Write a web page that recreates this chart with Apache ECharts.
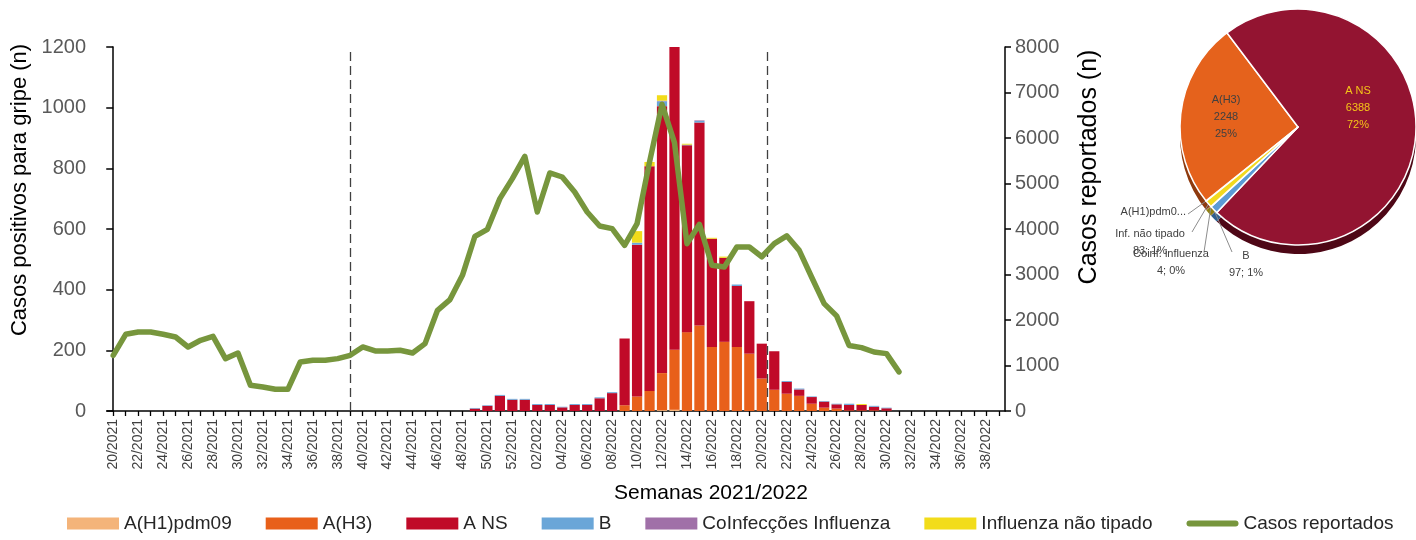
<!DOCTYPE html>
<html>
<head>
<meta charset="utf-8">
<script src="https://cdn.jsdelivr.net/npm/echarts/dist/echarts.min.js"></script>
<style>
html,body{margin:0;padding:0;background:#fff;}
#chart{width:1416px;height:540px;}
</style>
</head>
<body>
<div id="chart"></div>
<script>
// ---------- DATA ----------
const weeks = [
 '20/2021','21/2021','22/2021','23/2021','24/2021','25/2021','26/2021','27/2021','28/2021','29/2021',
 '30/2021','31/2021','32/2021','33/2021','34/2021','35/2021','36/2021','37/2021','38/2021','39/2021',
 '40/2021','41/2021','42/2021','43/2021','44/2021','45/2021','46/2021','47/2021','48/2021','49/2021',
 '50/2021','51/2021','52/2021','01/2022','02/2022','03/2022','04/2022','05/2022','06/2022','07/2022',
 '08/2022','09/2022','10/2022','11/2022','12/2022','13/2022','14/2022','15/2022','16/2022','17/2022',
 '18/2022','19/2022','20/2022','21/2022','22/2022','23/2022','24/2022','25/2022','26/2022','27/2022',
 '28/2022','29/2022','30/2022','31/2022','32/2022','33/2022','34/2022','35/2022','36/2022','37/2022',
 '38/2022','39/2022'
];
const seriesNames = ['A(H1)pdm09','A(H3)','A NS','B','CoInfecções Influenza','Influenza não tipado','Casos reportados'];

const z29 = new Array(29).fill(0);   // weeks 20/2021 .. 48/2021 : no positives
const tail9 = new Array(9).fill(0);  // weeks 31/2022 .. 39/2022
// weeks 49/2021 .. 30/2022
const h1pdm09 = z29.concat([0,0,0,0,0,0,0,0,0,0,0,0,0,0,0,3,4,0,0,0,0,0,0,0,0,0,0,0,0,0,0,0,0,0], tail9);
const h3      = z29.concat([0,0,0,0,0,0,0,0,0,0,0,0,19,48,66,122,198,260,282,211,228,211,189,107,70,57,50,24,11,8,2,2,2,1], tail9);
const ans     = z29.concat([8,17,50,37,37,20,20,12,20,20,42,59,220,500,741,880,998,616,669,357,277,201,173,115,127,39,21,22,20,14,18,18,12,8], tail9);
const bType   = z29.concat([2,2,3,3,3,3,3,2,3,3,3,3,0,7,0,16,0,2,5,0,0,5,0,0,0,3,3,2,2,2,4,0,3,2], tail9);
const coinf   = z29.concat([0,0,0,0,0,0,0,0,0,0,0,0,0,0,0,2,0,0,2,0,0,0,0,0,0,0,0,0,0,0,0,0,0,0], tail9);
const naoTip  = z29.concat([0,0,0,0,0,0,0,0,0,0,0,0,0,38,14,18,0,3,0,3,4,0,0,0,0,0,0,0,0,0,0,3,0,0], tail9);
const casosReportados = [
 1224,1686,1736,1736,1686,1626,1407,1554,1642,1151,
 1275,565,528,477,477,1077,1114,1114,1151,1224,
 1407,1319,1319,1334,1275,1480,2213,2448,2982,3840,
 3993,4668,5107,5598,4374,5231,5143,4813,4374,4066,
 4009,3642,4118,5473,6741,5900,3678,4103,3202,3165,
 3604,3604,3390,3678,3850,3530,2940,2360,2090,1440,
 1393,1297,1261,860,null,null,null,null,null,null,
 null,null
];
const dividerWeeks = [19, 52.43]; // category positions of the dashed season dividers

const pieNames = ['A(H1)pdm09','A(H3)','A NS','B','Coinf. influenza','Inf. não tipado'];
const pieValues = [7, 2248, 6388, 97, 4, 83];

// ---------- STYLE ----------
const colors = ['#F4B47A','#E8601A','#C00A28','#6AA6D8','#A070A8','#F2DC1A','#77963D'];
const pieColors = ['#F4B183','#E5621C','#931431','#5B9BD5','#8064A2','#F2D91F'];
const pieDepth  = ['#9a6a40','#8E3A0E','#4E0716','#2f5f8f','#4a3a60','#8f7f10'];
const font = 'Liberation Sans, Arial, sans-serif';

const chart = echarts.init(document.getElementById('chart'), null, {renderer:'canvas'});

const barSeries = [h1pdm09,h3,ans,bType,coinf,naoTip].map((d,i)=>({
  name: seriesNames[i], type:'bar', stack:'pos', data:d,
  barCategoryGap:'18%', itemStyle:{color:colors[i]}, xAxisIndex:0, yAxisIndex:0
}));

const labelPos = {
  0:{x:1186,y:212,align:'right', line:[1188,214]},
  1:{x:1226,y:117,align:'center'},
  2:{x:1358,y:108,align:'center'},
  3:{x:1246,y:264,align:'center', line:[1232,252]},
  4:{x:1171,y:262,align:'center', line:[1204,252]},
  5:{x:1150,y:242,align:'center', line:[1192,232]}
};

function pieLabel(p){
  const pct = Math.round(p.percent);
  if (p.dataIndex===0) return 'A(H1)pdm0...';
  if (p.dataIndex===1 || p.dataIndex===2) return p.name+'\n'+p.value+'\n'+pct+'%';
  return p.name+'\n'+p.value+'; '+pct+'%';
}
const plain = v => String(v);

const option = {
  animation:false,
  color: colors,
  textStyle:{fontFamily:font},
  grid:{left:107, right:411, top:47, bottom:129, containLabel:false, outerBoundsMode:'none'},
  legend:{
    bottom:2, left:62, itemWidth:52, itemHeight:12, itemGap:34,
    textStyle:{fontSize:19, color:'#262626', fontFamily:font},
    data: seriesNames.map((n,i)=> i===6
      ? {name:n, icon:'path://M3,0 H49 A3,3 0 0 1 49,6 H3 A3,3 0 0 1 3,0 Z'}
      : {name:n, icon:'rect'})
  },
  xAxis:[{
    type:'category', data:weeks, boundaryGap:true,
    axisLine:{lineStyle:{color:'#000', width:1.5}},
    axisTick:{show:true, alignWithLabel:true, interval:0, length:5, lineStyle:{color:'#000', width:1.3}},
    axisLabel:{rotate:90, interval:1, fontSize:14, color:'#404040', fontFamily:font, margin:8},
    name:'Semanas 2021/2022', nameLocation:'middle', nameGap:72,
    nameTextStyle:{fontSize:21, color:'#000', fontFamily:font, padding:[0,0,0,310]}
  },{
    type:'value', min:-0.5, max:71.5, show:false
  }],
  yAxis:[{
    type:'value', min:0, max:1200, interval:200, position:'left',
    axisLine:{show:true, lineStyle:{color:'#000', width:1.5}},
    axisTick:{show:true, length:7, lineStyle:{color:'#000', width:1.5}},
    splitLine:{show:false},
    axisLabel:{fontSize:20, color:'#595959', margin:21, fontFamily:font, formatter:plain},
    name:'Casos positivos para gripe (n)', nameLocation:'middle', nameGap:65, nameRotate:90,
    nameTextStyle:{fontSize:22, color:'#000', fontFamily:font, padding:[0,0,0,78]}
  },{
    type:'value', min:0, max:8000, interval:1000, position:'right',
    axisLine:{show:true, lineStyle:{color:'#000', width:1.5}},
    axisTick:{show:true, length:6, lineStyle:{color:'#000', width:1.5}},
    splitLine:{show:false},
    axisLabel:{fontSize:20, color:'#595959', margin:10, fontFamily:font, formatter:plain},
    name:'Casos reportados (n)', nameLocation:'middle', nameGap:72, nameRotate:90,
    nameTextStyle:{fontSize:25, color:'#000', fontFamily:font, padding:[0,0,0,124]}
  }],
  series: barSeries.concat([
    {
      name: seriesNames[6], type:'line', data:casosReportados, yAxisIndex:1, xAxisIndex:0,
      symbol:'none', connectNulls:false,
      lineStyle:{color:colors[6], width:5.5, cap:'round', join:'round'},
      itemStyle:{color:colors[6]}, z:5
    },
    {
      name:'divisores', type:'line', xAxisIndex:1, yAxisIndex:0, data:[], silent:true,
      markLine:{
        silent:true, symbol:['none','none'], label:{show:false},
        lineStyle:{color:'#404040', type:[9,5], width:1.3},
        data: dividerWeeks.map(v=>({xAxis:v}))
      }
    },
    {
      name:'pieDepth', type:'pie', center:[1298,136], radius:118, startAngle:219, clockwise:true,
      silent:true, label:{show:false}, labelLine:{show:false}, z:1,
      data: pieNames.map((n,i)=>({name:n+' ', value:pieValues[i], itemStyle:{color:pieDepth[i]}}))
    },
    {
      name:'pie', type:'pie', center:[1298,127], radius:118, startAngle:219, clockwise:true,
      avoidLabelOverlap:false, z:2,
      itemStyle:{borderColor:'#ffffff', borderWidth:1.5},
      label:{show:true, position:'outside', formatter:pieLabel, fontSize:11, lineHeight:17,
             color:'#404040', fontFamily:font},
      labelLine:{show:true, length:8, length2:8, lineStyle:{color:'#8c8c8c', width:1}},
      labelLayout:function(p){
        const L = labelPos[p.dataIndex];
        if(!L) return {};
        const r = {x:L.x, y:L.y, align:L.align, verticalAlign:'middle'};
        if (L.line && p.labelLinePoints && p.labelLinePoints.length){
          r.labelLinePoints = [p.labelLinePoints[0], L.line];
        }
        return r;
      },
      data: pieNames.map((n,i)=>{
        const d = {name:n, value:pieValues[i], itemStyle:{color:pieColors[i]}};
        if (i===1 || i===2){
          d.labelLine = {show:false};
          d.label = {color: i===2 ? '#F5C518' : '#404040'};
        }
        return d;
      })
    }
  ])
};
chart.setOption(option);
</script>
</body>
</html>
